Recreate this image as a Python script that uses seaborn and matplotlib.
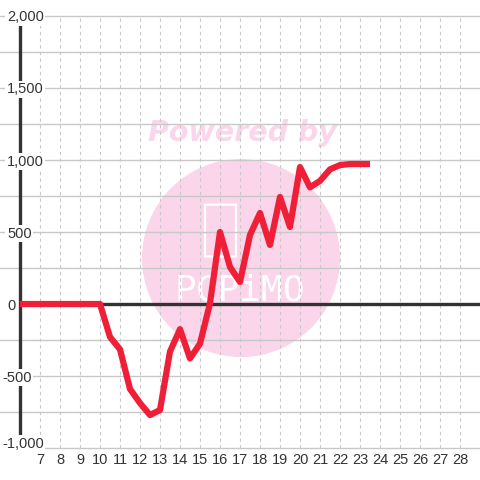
import matplotlib
matplotlib.use("Agg")
import matplotlib.pyplot as plt
from matplotlib.patches import Ellipse, FancyBboxPatch
import seaborn as sns
import pandas as pd

# ---- data ----
x_vals = [6, 6.5, 7, 7.5, 8, 8.5, 9, 9.5, 10, 10.5, 11, 11.5, 12, 12.5, 13,
          13.5, 14, 14.5, 15, 15.5, 16, 16.5, 17, 17.5, 18, 18.5, 19, 19.5,
          20, 20.5, 21, 21.5, 22, 22.5, 23, 23.5]
y_vals = [0, 0, 0, 0, 0, 0, 0, 0, 0, -229, -315, -590, -688, -771, -736,
          -330, -175, -378, -275, 5, 500, 257, 153, 479, 632, 410, 743, 535,
          951, 810, 855, 935, 965, 972, 972, 972]
x_ticks = list(range(7, 29))
y_labels = [2000, 1500, 1000, 500, 0, -500, -1000]
y_label_text = ["2,000", "1,500", "1,000", "500", "0", "-500", "-1,000"]
y_grid = [-1000, -750, -500, -250, 0, 250, 500, 750, 1000, 1250, 1500, 1750, 2000]

sns.set_style("white")
plt.rcParams["font.family"] = ["Liberation Sans", "DejaVu Sans"]

fig = plt.figure(figsize=(4.8, 4.8), dpi=100)
ax = fig.add_axes([0, 0, 1, 1])

pink = "#fbd5ea"
# watermark
ax.add_patch(Ellipse((17.05, 319), 9.9, 1375, facecolor=pink, edgecolor="none", zorder=0))
ax.text(17.1, 1188, "Powered by", color=pink, fontsize=20.5, fontweight="bold",
        fontstyle="italic", family="DejaVu Sans", ha="center", va="center", zorder=0.5)
ax.add_patch(FancyBboxPatch((15.25, 330), 1.55, 360, boxstyle="round,pad=0,rounding_size=0.25",
                            facecolor="none", edgecolor="white", linewidth=1.6, zorder=0.6))
ax.text(17.0, 95, "PCPiMO", color="white", fontsize=26, family="DejaVu Sans Mono",
        fontweight="light", ha="center", va="center", zorder=0.6)

grid_c = "#c8c8c8"
for g in y_grid:
    if g != 0:
        ax.axhline(g, color=grid_c, linewidth=1.0, zorder=1)
ax.vlines(x_ticks, -1000, 2000, colors=grid_c, linewidth=0.8,
          linestyles=(0, (3, 3)), zorder=1)

# axes lines
ax.vlines([6], -1000, 2000, colors="#333333", linewidth=2.4, zorder=2)
ax.hlines([0], 6, 29, colors="#333333", linewidth=2.4, zorder=2)

df = pd.DataFrame({"x": x_vals, "y": y_vals})
sns.lineplot(data=df, x="x", y="y", ax=ax, color="#ee1f36", linewidth=4.5,
             zorder=3, legend=False)
ax.lines[-1].set_solid_capstyle("butt")
ax.set_xlim(5, 29)
ax.set_ylim(-1222, 2111)
ax.axis("off")

for v, t in zip(y_labels, y_label_text):
    xp = 5.1 if v < 0 else 5.35
    va = "baseline" if v == -1000 else "center_baseline"
    ax.text(xp, v, t, fontsize=10.5, color="#333333", ha="left", va=va,
            bbox=dict(facecolor="white", edgecolor="none", pad=1.2), zorder=4)

for t in x_ticks:
    ax.text(t, -1083, str(t), fontsize=10.5, color="#333333", ha="center",
            va="center", zorder=4)

fig.savefig("out.png", dpi=100)
